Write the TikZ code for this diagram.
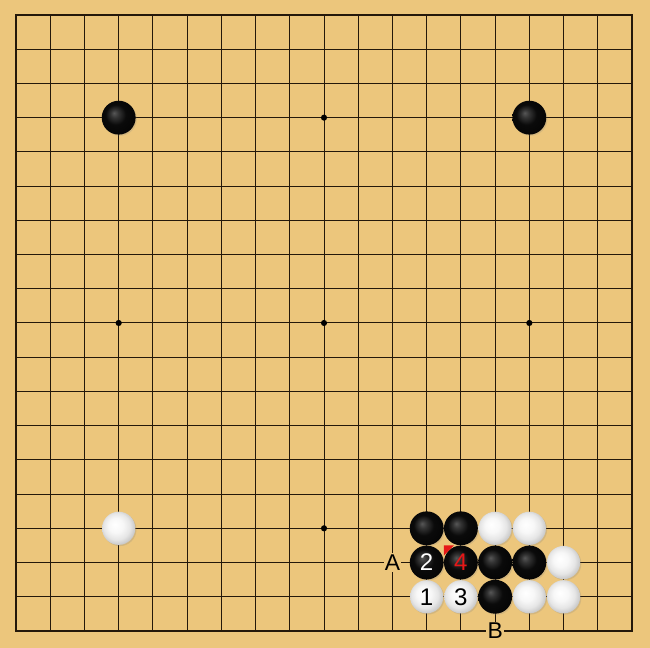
\documentclass[tikz,border=0pt]{standalone}
\usepackage{fontspec}
\setmainfont{Liberation Sans}
\usetikzlibrary{shadows}
\definecolor{board}{RGB}{236,198,124}
\definecolor{gridline}{RGB}{36,24,10}
\definecolor{markred}{RGB}{230,24,24}
\pgfdeclareradialshading{blackstone}{\pgfpoint{-7bp}{7bp}}{color(0bp)=(black!66); color(6bp)=(black!80); color(15bp)=(black!96); color(40bp)=(black)}
\pgfdeclareradialshading{whitestone}{\pgfpoint{-6bp}{6bp}}{color(0bp)=(white); color(11bp)=(white!97!black); color(20bp)=(white!90!black); color(27bp)=(white!78!black); color(40bp)=(white!62!black)}
\tikzset{
  bstone/.style={circle, inner sep=0pt, minimum size=0.99cm, shading=blackstone,
    drop shadow={shadow xshift=1pt, shadow yshift=-1pt, opacity=0.22}, text=white,
    font=\fontsize{20}{20}\selectfont},
  wstone/.style={circle, inner sep=0pt, minimum size=0.97cm, shading=whitestone,
    drop shadow={shadow xshift=1pt, shadow yshift=-1pt, opacity=0.22}, text=black,
    font=\fontsize{20}{20}\selectfont},
  boardlabel/.style={fill=board, inner sep=1pt, font=\fontsize{19}{19}\selectfont}
}

\begin{document}
\begin{tikzpicture}[x=1cm,y=1cm]

\fill[board] (-0.468,-0.497) rectangle (18.526,18.438);
\useasboundingbox (-0.468,-0.497) rectangle (18.526,18.438);

% grid
\foreach \i in {0,...,18}{
  \draw[gridline, line width=0.8pt] (\i,0)--(\i,18);
  \draw[gridline, line width=0.8pt] (0,\i)--(18,\i);
}
\draw[gridline, line width=1.1pt] (0,0) rectangle (18,18);

% star points
\foreach \x/\y in {9/15,3/9,9/9,15/9,9/3}{
  \fill[black] (\x,\y) circle (0.09);
}

% corner stones
\node[bstone] (b1) at (3,15) {};
\node[bstone] (b2) at (15,15) {};
\node[wstone] (w1) at (3,3) {};

% lower right group
\node[bstone] (b3) at (12,3) {};
\node[bstone] (b4) at (13,3) {};
\node[wstone] (w2) at (14,3) {};
\node[wstone] (w3) at (15,3) {};
\node[bstone] (m2) at (12,2) {2};
\node[bstone, text=markred] (m4) at (13,2) {4};
\node[bstone] (b5) at (14,2) {};
\node[bstone] (b6) at (15,2) {};
\node[wstone] (w4) at (16,2) {};
\node[wstone] (m1) at (12,1) {1};
\node[wstone] (m3) at (13,1) {3};
\node[bstone] (b7) at (14,1) {};
\node[wstone] (w5) at (15,1) {};
\node[wstone] (w6) at (16,1) {};

% last move marker
\fill[markred] (12.5,2.5)--(12.8,2.5)--(12.5,2.2)--cycle;

\node[boardlabel] (la) at (11,2) {A};
\node[boardlabel] (lb) at (14,0) {B};

\end{tikzpicture}
\end{document}
